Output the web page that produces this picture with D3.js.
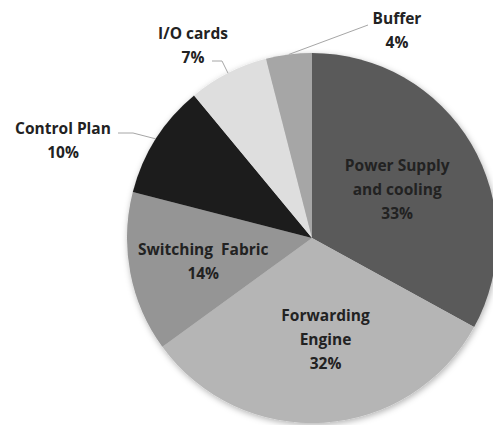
<!DOCTYPE html>
<html>
<head>
<meta charset="utf-8">
<script src="https://cdn.jsdelivr.net/npm/d3@7"></script>
<style>
  body { margin: 0; background: #fff; }
  svg { display: block; }
  text { font-family: "Open Sans", "DejaVu Sans", sans-serif; font-weight: 700; fill: #222; }
</style>
</head>
<body>
<div id="chart"></div>
<script>
// dati del grafico
let categorie = ["Power Supply and cooling", "Forwarding Engine", "Switching Fabric", "Control Plan", "I/O cards", "Buffer"];
let valori = [33, 32, 14, 10, 7, 4];
let colori = ["#5a5a5a", "#b5b5b5", "#959595", "#1e1e1e", "#dedede", "#a6a6a6"];

// righe delle etichette
let righe = [
    ["Power Supply", "and cooling", "33%"],
    ["Forwarding", "Engine", "32%"],
    ["Switching  Fabric", "14%"],
    ["Control Plan", "10%"],
    ["I/O cards", "7%"],
    ["Buffer", "4%"]
];

let width = 493, height = 425;
let cx = 312, cy = 238, raggio = 185;

let svg = d3.select("#chart").append("svg")
    .attr("width", width)
    .attr("height", height);

// ombra leggera attorno alla torta
let defs = svg.append("defs");
defs.append("filter")
    .attr("id", "ombra")
    .attr("x", "-10%").attr("y", "-10%")
    .attr("width", "120%").attr("height", "120%")
    .append("feDropShadow")
    .attr("dx", 1).attr("dy", 2)
    .attr("stdDeviation", 3)
    .attr("flood-color", "#000")
    .attr("flood-opacity", 0.3);

let pie = d3.pie().sort(null).value((d) => d);
let archi = pie(valori);

let arc = d3.arc().innerRadius(0).outerRadius(raggio);
let arcEtichetta = d3.arc().innerRadius(0).outerRadius(raggio * 1.12);
let arcBordo = d3.arc().innerRadius(raggio).outerRadius(raggio);

let g = svg.append("g").attr("transform", `translate(${cx},${cy})`);

g.append("g")
    .attr("filter", "url(#ombra)")
    .selectAll("path")
    .data(archi)
    .enter().append("path")
    .attr("d", arc)
    .style("fill", (d, i) => colori[i]);

// piccoli spostamenti delle etichette interne rispetto al centroide
let spostInterne = [[-4, 0], [7, -6], [-7, 0]];

// etichette esterne con la linea guida
let posEsterne = {
    3: { x: -249, y: -102.5, linea: [[-179, -105], [-194, -105]] },
    4: { x: -119, y: -197.5, linea: [[-90, -177], [-100, -177]] },
    5: { x: 85, y: -212.5, linea: [[56, -213]] }
};

archi.forEach((d, i) => {
    let x, y;
    if (i < 3) {
        let c = arcEtichetta.centroid(d);
        x = c[0] + spostInterne[i][0];
        y = c[1] + spostInterne[i][1];
    } else {
        let p = posEsterne[i];
        x = p.x;
        y = p.y;
        let bordo = arcBordo.centroid(d);
        let punti = [bordo].concat(p.linea);
        g.append("path")
            .attr("d", d3.line()(punti))
            .style("fill", "none")
            .style("stroke", "#a6a6a6")
            .style("stroke-width", 1);
    }
    let n = righe[i].length;
    let t = g.append("text")
        .attr("text-anchor", "middle")
        .style("font-size", "15.5px");
    righe[i].forEach((r, k) => {
        t.append("tspan")
            .attr("x", x)
            .attr("y", y + (k - (n - 1) / 2) * 24 + 10)
            .style("white-space", "pre")
            .text(r);
    });
});
</script>
</body>
</html>
